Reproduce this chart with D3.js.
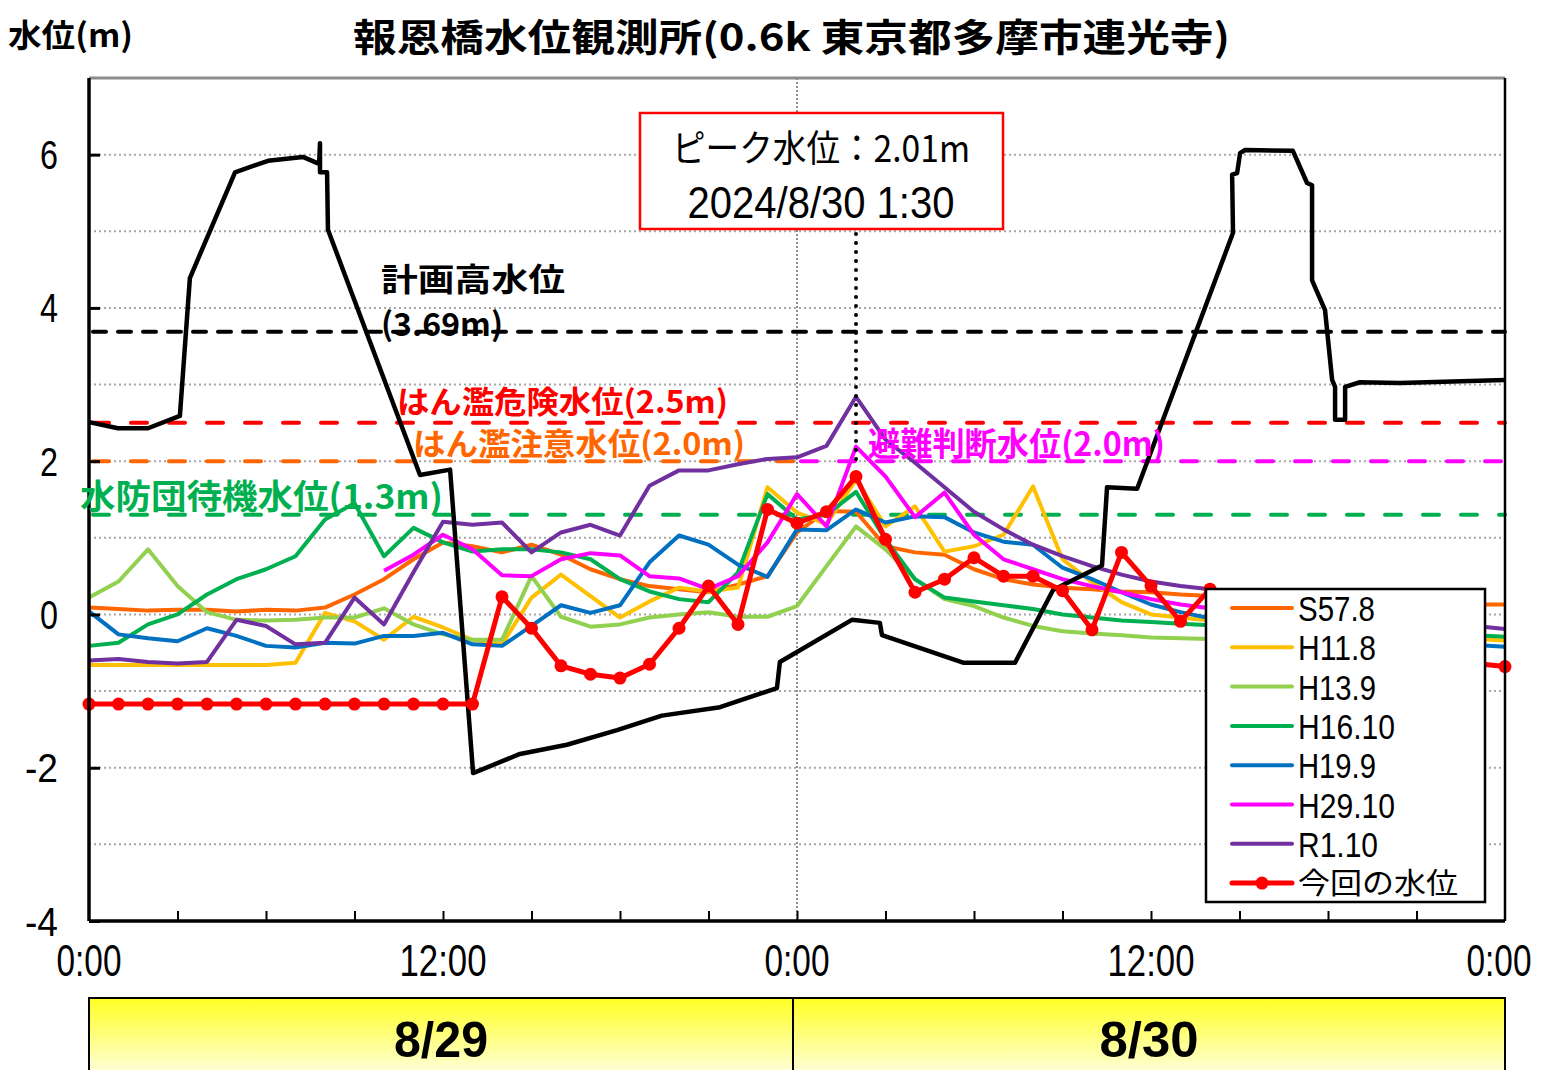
<!DOCTYPE html>
<html><head><meta charset="utf-8">
<script src="https://cdn.jsdelivr.net/npm/d3@7"></script>
<style>body{margin:0;background:#fff}svg{display:block}</style>
</head><body>
<svg id="c" width="1541" height="1070"></svg>
<script>
// ---------- data ----------
const hours = d3.range(0, 49); // 0:00 8/29 ... 0:00 8/31, hourly
const seriesNames = ["S57.8", "H11.8", "H13.9", "H16.10", "H19.9", "H29.10", "R1.10"];
const S57_8 = [0.09,0.07,0.05,0.06,0.06,0.04,0.06,0.05,0.09,0.26,0.46,0.72,0.94,0.89,0.81,0.91,0.78,0.59,0.46,0.37,0.33,0.29,0.39,0.50,1.07,1.35,1.34,0.89,0.81,0.78,0.59,0.46,0.39,0.35,0.33,0.30,0.29,0.26,0.24,0.22,0.21,0.20,0.18,0.17,0.16,0.15,0.14,0.13,0.13];
const H11_8 = [-0.66,-0.66,-0.66,-0.66,-0.66,-0.66,-0.66,-0.63,0.02,-0.09,-0.33,-0.03,-0.17,-0.33,-0.39,0.22,0.52,0.24,-0.04,0.17,0.35,0.30,0.35,1.66,1.33,1.18,1.76,1.15,1.41,0.82,0.89,1.04,1.67,0.72,0.42,0.16,0.00,-0.04,-0.08,-0.12,-0.15,-0.18,-0.21,-0.24,-0.26,-0.28,-0.30,-0.32,-0.34];
const H13_9 = [0.22,0.43,0.85,0.37,0.03,-0.07,-0.08,-0.07,-0.04,-0.04,0.08,-0.13,-0.26,-0.33,-0.33,0.50,-0.03,-0.16,-0.13,-0.04,0.00,0.03,-0.03,-0.03,0.11,0.63,1.15,0.85,0.46,0.20,0.11,-0.04,-0.15,-0.22,-0.25,-0.27,-0.30,-0.31,-0.32,-0.33,-0.33,-0.34,-0.34,-0.35,-0.35,-0.36,-0.36,-0.37,null];
const H16_10 = [-0.41,-0.37,-0.13,0.00,0.26,0.46,0.59,0.76,1.24,1.45,0.76,1.13,0.94,0.82,0.85,0.85,0.81,0.72,0.46,0.30,0.20,0.16,0.55,1.57,1.24,1.30,1.60,0.98,0.46,0.22,0.17,0.12,0.07,0.00,-0.04,-0.08,-0.10,-0.12,-0.14,-0.16,-0.18,-0.20,-0.21,-0.23,-0.24,-0.25,-0.26,-0.27,-0.29];
const H19_9 = [0.04,-0.26,-0.31,-0.35,-0.18,-0.28,-0.41,-0.43,-0.37,-0.38,-0.28,-0.28,-0.24,-0.39,-0.41,-0.15,0.12,0.02,0.12,0.68,1.03,0.91,0.65,0.49,1.11,1.10,1.37,1.20,1.28,1.27,1.07,0.95,0.91,0.61,0.46,0.29,0.13,0.03,-0.05,-0.12,-0.17,-0.22,-0.26,-0.29,-0.32,-0.35,-0.37,-0.40,-0.42];
const H29_10 = [null,null,null,null,null,null,null,null,null,null,0.57,0.78,1.04,0.85,0.51,0.50,0.72,0.80,0.77,0.50,0.47,0.33,0.50,0.94,1.57,1.15,2.19,1.80,1.27,1.59,1.04,0.72,0.59,0.46,0.37,0.29,0.20,0.13,0.08,0.04,0.00,-0.04,-0.07,-0.10,-0.13,-0.16,-0.18,-0.20,null];
const R1_10 = [-0.60,-0.58,-0.62,-0.64,-0.62,-0.07,-0.15,-0.39,-0.37,0.22,-0.13,0.55,1.21,1.17,1.20,0.81,1.07,1.17,1.03,1.68,1.88,1.88,1.96,2.03,2.05,2.20,2.84,2.28,1.98,1.66,1.34,1.11,0.91,0.76,0.63,0.52,0.43,0.37,0.33,0.27,0.21,0.15,0.09,0.04,-0.01,-0.06,-0.11,-0.15,-0.19];
const currentName = "今回の水位";
const current = [-1.17,-1.17,-1.17,-1.17,-1.17,-1.17,-1.17,-1.17,-1.17,-1.17,-1.17,-1.17,-1.17,-1.17,0.23,-0.18,-0.67,-0.78,-0.83,-0.65,-0.18,0.37,-0.13,1.37,1.19,1.34,1.80,0.98,0.29,0.46,0.74,0.50,0.50,0.31,-0.20,0.81,0.37,-0.09,0.33,0.10,0.00,-0.10,-0.20,-0.30,-0.40,-0.50,-0.58,-0.64,-0.68];

// river cross-section profile (drawn in the same x/y space)
const profileX = [0,0.98,2.0,3.08,3.42,4.95,6.07,7.25,7.80,7.83,7.83,8.07,8.10,11.22,12.24,13.02,14.61,16.20,17.90,19.42,21.39,23.32,23.42,25.86,26.81,26.88,29.63,31.39,32.68,34.34,34.51,35.53,38.78,38.75,38.92,39.02,39.19,40.81,41.29,41.46,41.46,41.90,42.14,42.24,42.24,42.58,42.58,43.08,44.44,48];
const profileY = [2.51,2.43,2.43,2.59,4.39,5.77,5.92,5.97,5.88,6.15,5.77,5.77,5.02,1.82,1.89,-2.07,-1.82,-1.70,-1.51,-1.32,-1.21,-0.96,-0.62,-0.07,-0.11,-0.27,-0.63,-0.63,0.32,0.64,1.66,1.64,4.98,5.74,5.76,6.02,6.06,6.05,5.63,5.60,4.36,3.97,3.06,2.97,2.54,2.54,2.97,3.03,3.02,3.06];

const thresholdNames = ["計画高水位", "はん濫危険水位(2.5m)", "はん濫注意水位(2.0m)", "避難判断水位(2.0m)", "水防団待機水位(1.3m)"];
const thresholdLevels = [3.69, 2.5, 2.0, 2.0, 1.3];
const thresholdFrom = [0, 0, 0, 24, 0];
const thresholdTo = [48, 48, 24, 48, 48];

const yTicks = [6, 4, 2, 0, -2, -4];
const xLabelHours = [0, 12, 24, 36, 48];
const xLabels = ["0:00", "12:00", "0:00", "12:00", "0:00"];
const dayLabels = ["8/29", "8/30"];
const dayStart = [0, 24];
const peakHour = 26;
const peakValue = 2.01;
const peakText = ["ピーク水位：2.01m", "2024/8/30 1:30"];
const titleText = "報恩橋水位観測所(0.6k 東京都多摩市連光寺)";
const yTitle = "水位(m)";

// ---------- styles ----------
const seriesColors = ["#FF6600", "#FFC000", "#92D050", "#00B050", "#0070C0", "#FF00FF", "#7030A0"];
const thresholdColors = ["#000000", "#FF0000", "#FF6600", "#FF00FF", "#00B050"];
const JP = "'Noto Sans CJK JP', 'Noto Sans', sans-serif";
const LAT = "'Liberation Sans Narrow', 'Liberation Sans', Arial, sans-serif";

const svg = d3.select("#c");
const x = d3.scaleLinear().domain([0, 48]).range([89, 1505]);
const y = d3.scaleLinear().domain([-4, 7]).range([921, 78]);

function label(parent, s, px, py, size, width, o = {}) {
  const t = parent.append("text").attr("x", px).attr("y", py).text(s)
    .attr("font-size", size).attr("font-family", o.family || JP)
    .attr("font-weight", o.weight || "normal").attr("fill", o.fill || "#000")
    .attr("text-anchor", o.anchor || "start");
  if (width) t.attr("textLength", width).attr("lengthAdjust", "spacingAndGlyphs");
  return t;
}

// gridlines
svg.append("g").selectAll("line").data(d3.range(-3, 7)).join("line")
  .attr("x1", x(0)).attr("x2", x(48)).attr("y1", d => y(d)).attr("y2", d => y(d))
  .attr("stroke", "#A6A6A6").attr("stroke-width", 2).attr("stroke-dasharray", "2,3");
// day boundary
svg.append("line").attr("x1", x(24)).attr("x2", x(24)).attr("y1", y(7)).attr("y2", y(-4))
  .attr("stroke", "#444").attr("stroke-width", 1.2).attr("stroke-dasharray", "2,2");

// threshold lines
thresholdLevels.forEach((lv, i) => {
  svg.append("line").attr("x1", x(thresholdFrom[i]) + 4).attr("x2", x(thresholdTo[i]))
    .attr("y1", y(lv)).attr("y2", y(lv))
    .attr("stroke", thresholdColors[i]).attr("stroke-width", 4).attr("stroke-linecap", "round")
    .attr("stroke-dasharray", i === 0 ? "13,12" : "16,22");
});

// past series
const allSeries = [S57_8, H11_8, H13_9, H16_10, H19_9, H29_10, R1_10];
const line = d3.line().defined(d => d[1] != null).x(d => x(d[0])).y(d => y(d[1]));
allSeries.forEach((vals, i) => {
  svg.append("path").datum(hours.map((h, j) => [h, vals[j]]))
    .attr("d", line).attr("fill", "none").attr("stroke", seriesColors[i])
    .attr("stroke-width", 4).attr("stroke-linejoin", "round");
});

// profile
svg.append("path").datum(profileX.map((h, j) => [h, profileY[j]]))
  .attr("d", line).attr("fill", "none").attr("stroke", "#000")
  .attr("stroke-width", 4.5).attr("stroke-linejoin", "round");

// current water level
const curData = hours.map((h, j) => [h, current[j]]);
svg.append("path").datum(curData).attr("d", line).attr("fill", "none")
  .attr("stroke", "#FF0000").attr("stroke-width", 5).attr("stroke-linejoin", "round");
svg.append("g").selectAll("circle").data(curData).join("circle")
  .attr("cx", d => x(d[0])).attr("cy", d => y(d[1])).attr("r", 6.5).attr("fill", "#FF0000");

// frame
svg.append("line").attr("x1", x(0)).attr("x2", x(48)).attr("y1", y(7)).attr("y2", y(7))
  .attr("stroke", "#8C8C8C").attr("stroke-width", 3);
svg.append("line").attr("x1", x(48)).attr("x2", x(48)).attr("y1", y(7)).attr("y2", y(-4))
  .attr("stroke", "#000").attr("stroke-width", 2.5);
const yAxis = svg.append("g").attr("transform", `translate(${x(0)},0)`)
  .call(d3.axisLeft(y).tickValues(yTicks).tickSize(-11).tickFormat(""));
yAxis.select(".domain").attr("stroke-width", 3.5).attr("d", `M0,${y(7)}V${y(-4)}`);
yAxis.selectAll(".tick line").attr("stroke-width", 3);
const xAxis = svg.append("g").attr("transform", `translate(0,${y(-4)})`)
  .call(d3.axisBottom(x).tickValues(d3.range(3, 48, 3)).tickSize(-10).tickFormat(""));
xAxis.select(".domain").attr("stroke-width", 3.5).attr("d", `M${x(0)},0H${x(48)}`);
xAxis.selectAll(".tick line").attr("stroke-width", 2);

// tick labels
yTicks.forEach(v => {
  const s = String(v);
  label(svg, s, 58, y(v) + 14.5, 40, s.length > 1 ? 33 : 18, { family: LAT, anchor: "end" });
});
xLabelHours.forEach((h, i) => {
  label(svg, xLabels[i], Math.min(x(h), 1499), 976, 44, xLabels[i].length > 4 ? 87 : 65, { family: LAT, anchor: "middle" });
});

// threshold labels
const tl = svg.append("g").attr("font-weight", "bold");
label(tl, thresholdNames[0], 381, 291, 32, 184, { fill: thresholdColors[0], weight: "bold" });
label(tl, "(" + thresholdLevels[0].toFixed(2) + "m)", 381, 336, 32, 122, { fill: thresholdColors[0], weight: "bold" });
label(tl, thresholdNames[1], 397, 413, 31, 331, { fill: thresholdColors[1], weight: "bold" });
label(tl, thresholdNames[2], 413, 455, 31, 332, { fill: thresholdColors[2], weight: "bold" });
label(tl, thresholdNames[3], 868, 456, 33, 297, { fill: thresholdColors[3], weight: "bold" });
label(tl, thresholdNames[4], 80, 509, 34, 363, { fill: thresholdColors[4], weight: "bold" });

// peak marker
svg.append("line").attr("x1", x(peakHour)).attr("x2", x(peakHour))
  .attr("y1", 234).attr("y2", y(peakValue))
  .attr("stroke", "#000").attr("stroke-width", 4).attr("stroke-linecap", "round")
  .attr("stroke-dasharray", "0,9");
svg.append("rect").attr("x", 640).attr("y", 113).attr("width", 363).attr("height", 116)
  .attr("fill", "#fff").attr("stroke", "#FF0000").attr("stroke-width", 2.5);
label(svg, peakText[0], 821, 162, 37, 298, { anchor: "middle" });
label(svg, peakText[1], 821, 218, 44, 267, { family: LAT, anchor: "middle" });

// legend
const lg = svg.append("g");
lg.append("rect").attr("x", 1206).attr("y", 589).attr("width", 279).attr("height", 313)
  .attr("fill", "#fff").attr("stroke", "#000").attr("stroke-width", 2.5);
const legNames = seriesNames.concat([currentName]);
const legColors = seriesColors.concat(["#FF0000"]);
const legWidths = [77, 78, 78, 97, 78, 97, 80, 160];
legNames.forEach((n, i) => {
  const cy = 608 + i * 39.3;
  lg.append("line").attr("x1", 1232).attr("x2", 1292).attr("y1", cy).attr("y2", cy)
    .attr("stroke", legColors[i]).attr("stroke-width", i === 7 ? 5 : 4).attr("stroke-linecap", "round");
  if (i === 7) lg.append("circle").attr("cx", 1262).attr("cy", cy).attr("r", 6.5).attr("fill", "#FF0000");
  if (i === 7) label(lg, n, 1298, cy + 11, 29, legWidths[i], {});
  else label(lg, n, 1298, cy + 13, 35, legWidths[i], { family: LAT });
});

// titles
label(svg, yTitle, 8, 47, 32, 125, { weight: "bold" });
label(svg, titleText, 353, 51, 38, 877, { weight: "bold" });

// date band
const defs = svg.append("defs");
const gr = defs.append("linearGradient").attr("id", "yg").attr("x1", 0).attr("y1", 0).attr("x2", 0).attr("y2", 1);
gr.append("stop").attr("offset", "0%").attr("stop-color", "#FFFF22");
gr.append("stop").attr("offset", "100%").attr("stop-color", "#FFFFFF");
dayStart.forEach((h, i) => {
  const x0 = i === 0 ? x(h) : x(h) - 4;
  const x1 = i === 0 ? x(h + 24) - 4 : x(h + 24);
  svg.append("rect").attr("x", x0).attr("y", 998).attr("width", x1 - x0).attr("height", 90)
    .attr("fill", "url(#yg)").attr("stroke", "#000").attr("stroke-width", 2);
  label(svg, dayLabels[i], (x0 + x1) / 2, 1057, 50, i === 0 ? 94 : 99, { family: LAT, anchor: "middle", weight: "bold" });
});
</script>
</body></html>
